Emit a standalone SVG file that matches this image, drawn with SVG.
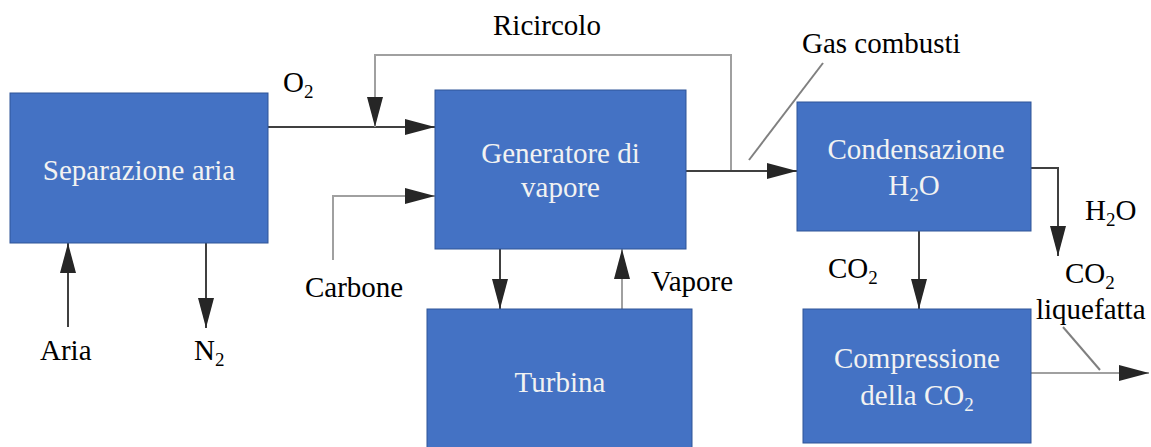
<svg xmlns="http://www.w3.org/2000/svg" width="1151" height="447" viewBox="0 0 1151 447">
<style>
.box{fill:#4472C4;stroke:#2F5597;stroke-width:1}
.bt{font-family:"Liberation Serif",serif;font-size:29px;fill:#F2F2F2;text-anchor:middle}
.lb{font-family:"Liberation Serif",serif;font-size:29px;fill:#000}
.dk{fill:none;stroke:#404040;stroke-width:2}
.gr{fill:none;stroke:#A0A0A0;stroke-width:2}
.ld{fill:none;stroke:#808080;stroke-width:2}
</style>
<defs>
<marker id="ah" markerUnits="userSpaceOnUse" markerWidth="30" markerHeight="16" refX="30" refY="8" orient="auto" viewBox="0 0 30 16">
<path d="M0,0 L30,8 L0,16 Z" fill="#262626"/>
</marker>
</defs>
<g id="connectors">
<path class="dk" d="M268,127 H435" marker-end="url(#ah)"/>
<path class="gr" d="M731,171 V55 H375 V127" marker-end="url(#ah)"/>
<path class="gr" d="M333,260 V196 H435" marker-end="url(#ah)"/>
<path class="dk" d="M686,171 H797" marker-end="url(#ah)"/>
<path class="ld" d="M749,160 L823,63"/>
<path class="dk" d="M1031,168 H1058 V256" marker-end="url(#ah)"/>
<path class="dk" d="M919,231 V309" marker-end="url(#ah)"/>
<path class="gr" d="M1031,373 H1149" marker-end="url(#ah)"/>
<path class="ld" d="M1063,327 L1100,370"/>
<path class="dk" d="M68,327 V243" marker-end="url(#ah)"/>
<path class="dk" d="M206,243 V328" marker-end="url(#ah)"/>
<path class="dk" d="M500,249 V309" marker-end="url(#ah)"/>
<path class="gr" d="M622,309 V249" marker-end="url(#ah)"/>
</g>
<g id="separazione">
<rect class="box" x="10" y="93" width="258" height="150"/>
<text class="bt" x="139" y="180">Separazione aria</text>
</g>
<g id="generatore">
<rect class="box" x="435" y="90" width="251" height="159"/>
<text class="bt" x="560.5" y="163">Generatore di</text>
<text class="bt" x="560.5" y="197">vapore</text>
</g>
<g id="condensazione">
<rect class="box" x="797" y="102" width="234" height="129"/>
<text class="bt" x="916" y="159">Condensazione</text>
<text class="bt" x="914" y="195">H<tspan font-size="19" dy="6">2</tspan><tspan dy="-6">O</tspan></text>
</g>
<g id="turbina">
<rect class="box" x="427" y="309" width="265" height="145"/>
<text class="bt" x="560" y="392">Turbina</text>
</g>
<g id="compressione">
<rect class="box" x="803" y="309" width="228" height="134"/>
<text class="bt" x="917" y="368">Compressione</text>
<text class="bt" x="917" y="405">della CO<tspan font-size="19" dy="6">2</tspan></text>
</g>
<g id="labels">
<text class="lb" x="493" y="35">Ricircolo</text>
<text class="lb" x="802" y="53">Gas combusti</text>
<text class="lb" x="283" y="92">O<tspan font-size="19" dy="6">2</tspan></text>
<text class="lb" x="40" y="360">Aria</text>
<text class="lb" x="194" y="360">N<tspan font-size="19" dy="6">2</tspan></text>
<text class="lb" x="305" y="297">Carbone</text>
<text class="lb" x="651" y="291">Vapore</text>
<text class="lb" x="1085" y="220">H<tspan font-size="19" dy="6">2</tspan><tspan dy="-6">O</tspan></text>
<text class="lb" x="828" y="278">CO<tspan font-size="19" dy="6">2</tspan></text>
<text class="lb" x="1065" y="283">CO<tspan font-size="19" dy="6">2</tspan></text>
<text class="lb" x="1036" y="319">liquefatta</text>
</g>
</svg>
